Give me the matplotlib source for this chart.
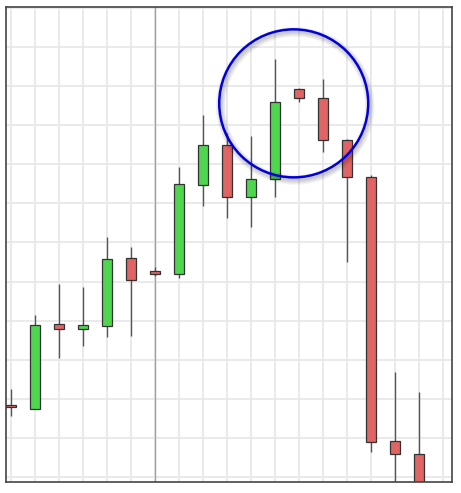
import matplotlib
matplotlib.use("Agg")
import matplotlib.pyplot as plt
from matplotlib.patches import Ellipse, Rectangle
import numpy as np

# Data (price units = one horizontal grid step)
opens  = [1.84, 1.75, 3.91, 3.79, 3.87, 5.60, 5.26, 5.20, 7.48, 8.50, 7.16, 7.62, 9.92, 9.71, 8.62, 7.68, 0.91, 0.58]
closes = [1.78, 3.90, 3.79, 3.88, 5.58, 5.03, 5.20, 7.50, 8.50, 7.16, 7.62, 9.60, 9.70, 8.62, 7.68, 0.89, 0.60, -0.40]
highs  = [2.25, 4.14, 4.95, 4.85, 6.15, 5.89, 5.37, 7.92, 9.26, 8.79, 8.73, 10.69, 9.95, 10.18, 8.64, 7.73, 2.68, 2.17]
lows   = [1.56, 1.75, 3.05, 3.34, 3.57, 3.62, 5.15, 5.09, 6.94, 6.63, 6.39, 7.16, 9.59, 8.32, 5.49, 0.63, -0.40, -0.50]

x = np.arange(len(opens))

W, H = 461, 493
fig = plt.figure(figsize=(W / 100, H / 100), dpi=100)
ax = fig.add_axes([6 / W, 1 - 482 / H, (452 - 6) / W, (482 - 7) / H])

ax.set_xlim(-5 / 24, 18 + 9 / 24)
ax.set_ylim(-5 / 39.08, 12 + 1 / 39.08)

# grid
for gx in range(0, 19):
    ax.axvline(gx, color="#e8e8e8", lw=1.3, zorder=0)
for gy in range(0, 13):
    ax.axhline(gy, color="#e8e8e8", lw=1.3, zorder=0)
ax.axvline(6, color="#a0a0a0", lw=1.0, zorder=0.5)

green = "#4fd64f"
red = "#e06464"
bw = 0.4
for xi, o, c, h, l in zip(x, opens, closes, highs, lows):
    ax.plot([xi, xi], [l, h], color="#555555", lw=1.0, zorder=1, solid_capstyle="butt")
    col = green if c >= o else red
    bottom = min(o, c)
    height = max(abs(c - o), 0.04)
    ax.add_patch(Rectangle((xi - bw / 2, bottom), bw, height, facecolor=col,
                           edgecolor="#333333", lw=0.9, zorder=2))

# highlight circle with soft shadow
cx, cy = 11.78, 9.56
rw, rh = 2 * 74.5 / 24, 2 * 74 / 39.08
for k in range(6, 0, -1):
    ax.add_patch(Ellipse((cx + 1.5 / 24, cy - 2.5 / 39.08), rw, rh, fill=False,
                         edgecolor="#000000", alpha=0.035, lw=k * 1.2, zorder=3))
ax.add_patch(Ellipse((cx, cy), rw, rh, fill=False, edgecolor="#0000dd", lw=1.8, zorder=4))

ax.set_xticks([])
ax.set_yticks([])
for s in ax.spines.values():
    s.set_color("#444444")
    s.set_linewidth(1.2)

fig.savefig("out.png", dpi=100)
